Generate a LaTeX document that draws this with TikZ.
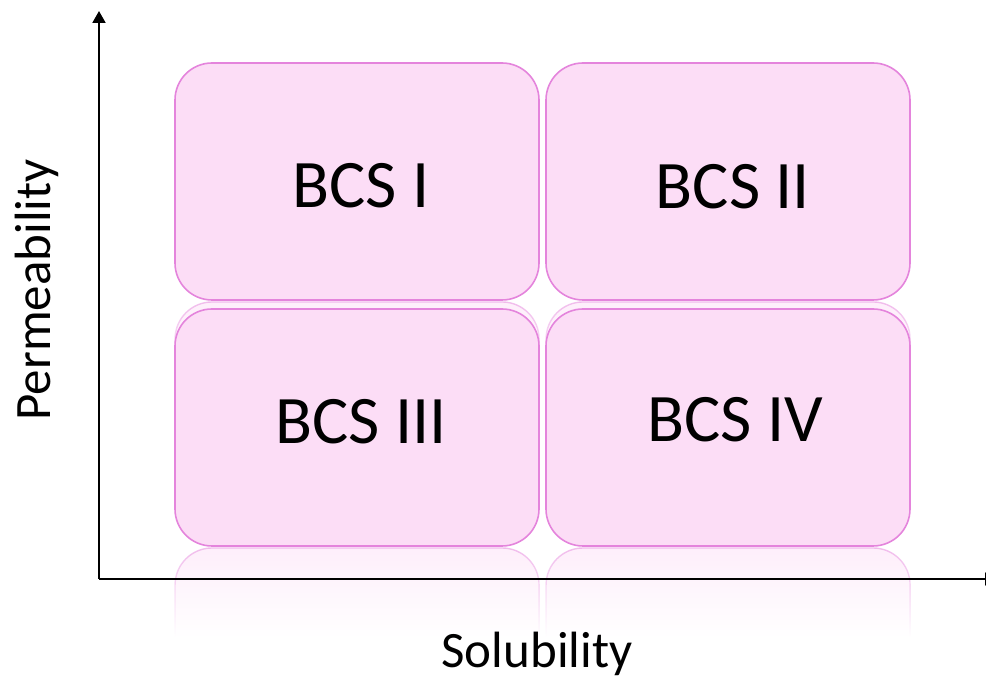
\documentclass[tikz,border=0pt]{standalone}
\usepackage{fontspec}
\setmainfont{Carlito}
\usetikzlibrary{arrows.meta,fadings}

\definecolor{cellfill}{RGB}{252,221,246}
\definecolor{cellline}{RGB}{228,132,220}
\tikzfading[name=reflfade, top color=transparent!50, bottom color=transparent!100]

\tikzset{
  cell/.style={draw=cellline, line width=1.6pt, fill=cellfill, rounded corners=37pt,
    minimum width=364pt, minimum height=237pt, inner sep=0pt},
  celltext/.style={font=\fontsize{68}{68}\selectfont, inner sep=0pt},
  axislabel/.style={font=\fontsize{51}{51}\selectfont, inner sep=0pt},
  axisline/.style={line width=2pt, -{Triangle[length=12pt,width=13pt]}},
  mirror/.style={draw=cellline, line width=1.4pt, fill=cellfill, rounded corners=37pt,
    path fading=reflfade}
}

\begin{document}
\begin{tikzpicture}[x=1pt,y=1pt]
  \useasboundingbox (0,0) rectangle (986,679);

  % faded mirror images below each row of cells
  \foreach \cx in {357,728}{
    \path[mirror] (\cx-182,287) -- (\cx-182,377) -- (\cx+182,377) -- (\cx+182,287);
    \path[mirror] (\cx-182,42) -- (\cx-182,131) -- (\cx+182,131) -- (\cx+182,42);
  }

  % the four classes
  \node[cell] (c1) at (357,497.5) {};
  \node[cell] (c2) at (728,497.5) {};
  \node[cell] (c3) at (357,251.5) {};
  \node[cell] (c4) at (728,251.5) {};

  \node[celltext] (t1) at (361,493) {BCS I};
  \node[celltext] (t2) at (733,492) {BCS II};
  \node[celltext] (t3) at (361,257.5) {BCS III};
  \node[celltext] (t4) at (735,259) {BCS IV};

  % axes
  \coordinate (o) at (99,100);
  \coordinate (ytip) at (99,668);
  \coordinate (xtip) at (997,100);
  \draw[axisline] (o) -- (ytip);
  \draw[axisline, line width=1.6pt] (o) -- (xtip);

  \node[axislabel, rotate=90] (py) at (37,389) {Permeability};
  \node[axislabel, anchor=base] (sx) at (537,11) {Solubility};
\end{tikzpicture}
\end{document}
